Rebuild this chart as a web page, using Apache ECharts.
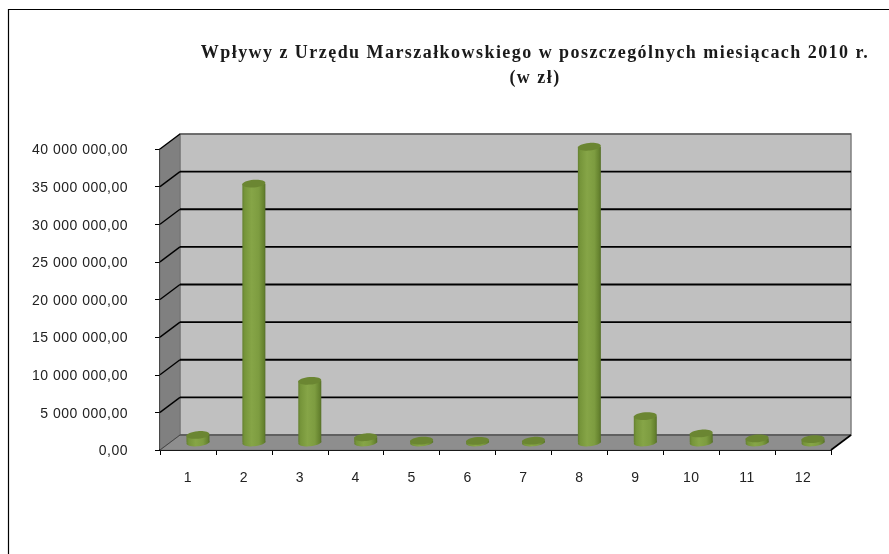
<!DOCTYPE html>
<html><head><meta charset="utf-8">
<style>html,body{margin:0;padding:0;background:#fff}#c{width:889px;height:554px}</style>
<script src="https://cdn.jsdelivr.net/npm/echarts@6/dist/echarts.min.js"></script>
</head><body><div id="c"></div>
<script>
const categories = ['1','2','3','4','5','6','7','8','9','10','11','12'];
const values = [1000000,34400000,8200000,700000,250000,220000,240000,39300000,3500000,1200000,550000,450000];
const yTicks = [0,5000000,10000000,15000000,20000000,25000000,30000000,35000000,40000000];
const titleText = 'Wpływy z Urzędu Marszałkowskiego w poszczególnych miesiącach 2010 r.\n(w zł)';

// The reference's text is tracked out; widen glyph spacing per font family.
const origFill = CanvasRenderingContext2D.prototype.fillText;
CanvasRenderingContext2D.prototype.fillText = function (t, x, y, m) {
  this.letterSpacing = /Serif/.test(this.font) ? '1.45px' : '0.5px';
  return m === undefined ? origFill.call(this, t, x, y) : origFill.call(this, t, x, y, m);
};

const DX = 20, DY = -15;
const fmt = v => {
  const s = String(Math.round(v)).replace(/\B(?=(\d{3})+$)/g, ' ');
  return '{a|' + (s === '0' ? '0,00' : s + ',00') + '}';
};
const chart = echarts.init(document.getElementById('c'), null, {renderer:'canvas'});

function frame(params, api) {
  if (params.dataIndex !== 0) return null;
  const L = api.coord([0,0])[0] - api.size([1,0])[0]/2;
  const R = L + api.size([1,0])[0]*categories.length;
  const y0 = api.coord([0,0])[1], yT = api.coord([0,yTicks[yTicks.length-1]])[1];
  const kids = [];
  kids.push({type:'rect',shape:{x:L+DX,y:yT+DY,width:R-L,height:y0-yT},style:{fill:'#c0c0c0',stroke:'#808080',lineWidth:1.5}});
  kids.push({type:'polygon',shape:{points:[[L,y0],[L,yT],[L+DX,yT+DY],[L+DX,y0+DY]]},style:{fill:'#808080',stroke:'#666',lineWidth:0.5}});
  kids.push({type:'polygon',shape:{points:[[L,y0],[R,y0],[R+DX,y0+DY],[L+DX,y0+DY]]},style:{fill:'#8e8e8e',stroke:'#666',lineWidth:0.5}});
  yTicks.forEach((t,i)=>{
    const y = api.coord([0,t])[1];
    if (i === 0) {
      kids.push({type:'line',shape:{x1:L+DX,y1:y+DY,x2:R+DX,y2:y+DY},style:{stroke:'#555',lineWidth:1.6}});
      kids.push({type:'line',shape:{x1:R,y1:y,x2:R+DX,y2:y+DY},style:{stroke:'#000',lineWidth:1.6}});
      kids.push({type:'line',shape:{x1:L,y1:y,x2:L+DX,y2:y+DY},style:{stroke:'#444',lineWidth:1}});
    } else {
      kids.push({type:'line',shape:{x1:L+DX,y1:y+DY,x2:R+DX,y2:y+DY},style:{stroke:i===8?'#444':'#000',lineWidth:i===8?1.2:1.8}});
      kids.push({type:'line',shape:{x1:L,y1:y,x2:L+DX,y2:y+DY},style:{stroke:'#000',lineWidth:1.4}});
    }
  });
  return {type:'group',silent:true,children:kids};
}

function cylinder(params, api) {
  const c = api.value(0), v = api.value(1);
  const base = api.coord([c,0]), top = api.coord([c,v]);
  const cx = base[0] + 10, by = base[1] - 7.5, ty = top[1] - 7.5;
  const rx = 11.5, ry = 3.8, tilt = 0.08;
  const grad = new echarts.graphic.LinearGradient(0,0,1,0,[
    {offset:0,color:'#64802f'},{offset:0.1,color:'#76953a'},
    {offset:0.4,color:'#86a547'},{offset:0.72,color:'#7d9c40'},
    {offset:0.92,color:'#66832f'},{offset:1,color:'#566f29'}]);
  return {type:'group',children:[
    {type:'ellipse',shape:{cx:cx,cy:by,rx:rx,ry:ry},rotation:tilt,originX:cx,originY:by,style:{fill:grad}},
    {type:'rect',shape:{x:cx-rx,y:ty,width:rx*2,height:by-ty},style:{fill:grad}},
    {type:'ellipse',shape:{cx:cx,cy:ty,rx:rx,ry:ry},rotation:tilt,originX:cx,originY:ty,style:{fill:'#6b8632'}}
  ]};
}

chart.setOption({
  animation:false,
  backgroundColor:'#fff',
  graphic:[{type:'polyline',silent:true,shape:{points:[[8.5,554],[8.5,9.5],[889,9.5]]},style:{fill:null,stroke:'#000',lineWidth:1.2}}],
  title:{text:titleText,left:530,top:36,textAlign:'center',
    textStyle:{fontFamily:'Liberation Serif',fontWeight:'bold',fontSize:18,lineHeight:25,color:'#1a1a1a'}},
  grid:{left:160,right:58,top:149,bottom:104,containLabel:false},
  xAxis:{type:'category',data:categories,
    axisLine:{lineStyle:{color:'#000',width:2}},
    axisTick:{show:true,alignWithLabel:false,length:5,lineStyle:{color:'#000',width:1}},
    axisLabel:{color:'#222',fontFamily:'Liberation Sans',fontSize:14,margin:21,interval:0}},
  yAxis:{type:'value',min:0,max:40000000,interval:5000000,
    axisLine:{show:true,lineStyle:{color:'#000',width:1.5}},
    axisTick:{show:true,length:5,lineStyle:{color:'#000',width:1}},
    splitLine:{show:false},
    axisLabel:{color:'#222',margin:32,formatter:fmt,
      rich:{a:{color:'#222',fontFamily:'Liberation Sans',fontSize:14,padding:[3,0,0,0]}}}},
  series:[
    {type:'custom',renderItem:frame,data:values.map((v,i)=>[i,v]),z:1,clip:false,silent:true,encode:{x:0,y:1}},
    {type:'custom',renderItem:cylinder,data:values.map((v,i)=>[i,v]),z:2,clip:false,encode:{x:0,y:1}}
  ]
});
</script></body></html>
